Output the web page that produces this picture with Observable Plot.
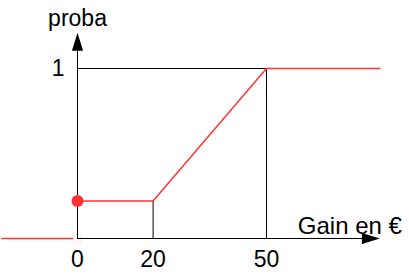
<!DOCTYPE html>
<html>
<head>
<meta charset="utf-8">
<script src="https://cdn.jsdelivr.net/npm/d3@7"></script>
<script src="https://cdn.jsdelivr.net/npm/@observablehq/plot@0.6"></script>
<style>
  html, body { margin: 0; padding: 0; background: #fff; }
  svg { display: block; }
</style>
</head>
<body>
<script>
// Data
const lowX = [-20, 0];          // CDF before 0
const lowY = [0, 0];
const cdfX = [0, 20, 50, 80];   // CDF from 0 on
const cdfY = [0.22, 0.22, 1, 1];
const xTicks = [0, 20, 50];
const yTicks = [1];
const xLabel = "Gain en €";
const yLabel = "proba";
const xTip = 80;     // end of x axis arrow
const yTip = 1.21;   // end of y axis arrow

const red = "#ff3333";
const arrowHead = {
  draw(ctx) {
    ctx.moveTo(0, 0);
    ctx.lineTo(5.6, 18);
    ctx.lineTo(-5.6, 18);
    ctx.closePath();
  }
};

const low = lowX.map((x, i) => ({x, y: lowY[i]}));
const cdf = cdfX.map((x, i) => ({x, y: cdfY[i]}));

const chart = Plot.plot({
  width: 409,
  height: 279,
  margin: 0,
  style: {fontFamily: "'Liberation Sans', Arial, sans-serif", background: "#fff", overflow: "visible"},
  x: {domain: [0, 50], range: [77, 266], axis: null},
  y: {domain: [0, 1], range: [238, 68], axis: null},
  marks: [
    // red CDF before 0
    Plot.line(low, {x: "x", y: "y", stroke: red, strokeWidth: 1.5}),
    // open point at origin
    Plot.dot([low[low.length - 1]], {x: "x", y: "y", r: 4, fill: "#fff", stroke: "#fdd", strokeWidth: 1}),
    // guide lines
    Plot.ruleX([cdf[1]], {x: "x", y1: 0, y2: "y", stroke: "#000", strokeWidth: 1}),
    Plot.ruleX([cdf[2]], {x: "x", y1: 0, y2: "y", stroke: "#000", strokeWidth: 1}),
    Plot.ruleY([cdf[2]], {y: "y", x1: 0, x2: "x", stroke: "#000", strokeWidth: 1}),
    // axes
    Plot.ruleY([0], {x1: 0, x2: xTip - 2, stroke: "#000", strokeWidth: 1}),
    Plot.ruleX([0], {y1: 0, y2: yTip - 0.02, stroke: "#000", strokeWidth: 1}),
    Plot.dot([xTip], {x: d => d, y: 0, symbol: arrowHead, rotate: 90, fill: "#000", stroke: "none"}),
    Plot.dot([yTip], {x: 0, y: d => d, symbol: arrowHead, fill: "#000", stroke: "none"}),
    // red CDF from 0
    Plot.line(cdf, {x: "x", y: "y", stroke: red, strokeWidth: 1.5}),
    Plot.dot([cdf[0]], {x: "x", y: "y", r: 6, fill: red, stroke: "none"}),
    // tick labels
    Plot.text(xTicks, {x: d => d, y: 0, text: d => String(d), dy: 21, fontSize: 23, fill: "#000"}),
    Plot.text(yTicks, {x: 0, y: d => d, text: d => String(d), textAnchor: "end", dx: -13, fontSize: 23, fill: "#000"}),
    // axis labels
    Plot.text([yLabel], {x: 0, y: yTip, text: d => d, dy: -14, fontSize: 23, fill: "#000"}),
    Plot.text([xLabel], {x: xTip, y: 0, text: d => d, textAnchor: "end", dx: 22, dy: -12, fontSize: 24, fill: "#000"})
  ]
});
document.body.appendChild(chart);
</script>
</body>
</html>
